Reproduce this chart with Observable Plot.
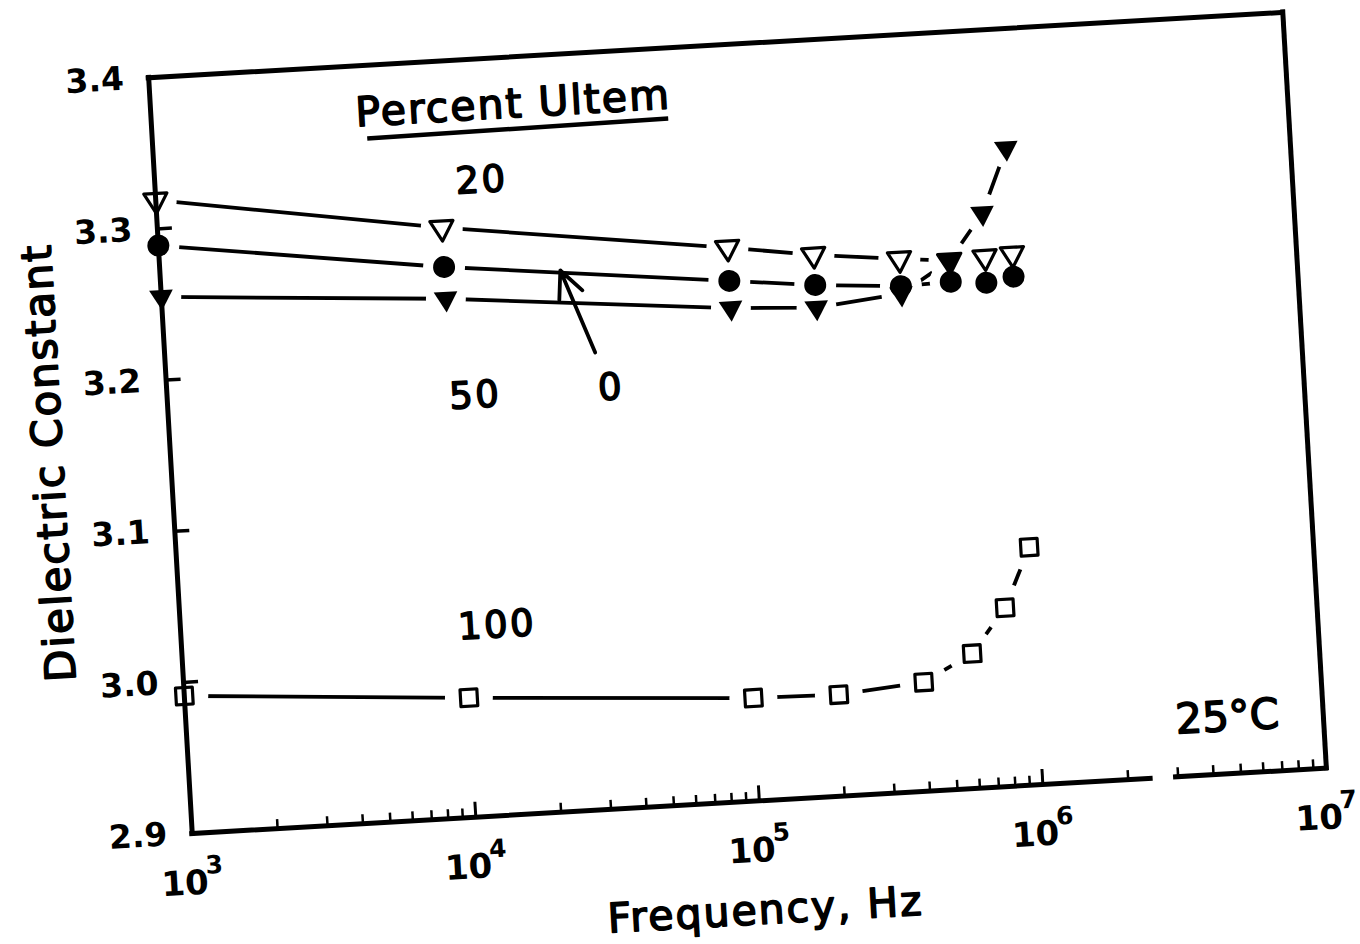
<!DOCTYPE html>
<html>
<head>
<meta charset="utf-8">
<script src="https://cdn.jsdelivr.net/npm/d3@7"></script>
<script src="https://cdn.jsdelivr.net/npm/@observablehq/plot@0.6"></script>
<style>
  html, body { margin: 0; padding: 0; background: #fff; overflow: hidden; width: 1360px; height: 944px; }
  #chart { position: absolute; left: 19.25px; top: 24px; transform-origin: 718px 398.5px; transform: rotate(-3.3deg); }
  .spaced text { letter-spacing: 2px; }
  .spaced-sm text { letter-spacing: 2.5px; }
</style>
</head>
<body>
<div id="chart"></div>
<script>
// ---- data ----
const frequencies = [1e3, 1e4, 1e5, 2e5, 4e5, 6e5, 8e5, 1e6];
const ultem20  = [3.319, 3.290, 3.266, 3.258, 3.252, 3.249, 3.250, 3.251];
const ultem0   = [3.289, 3.264, 3.244, 3.238, 3.234, 3.235, 3.233, 3.236];
const ultem50  = [3.255, 3.243, 3.226, 3.223, 3.229, 3.249, 3.279, 3.321];
const ultem100 = [2.991, 2.979, 2.968, 2.967, 2.972, 2.989, 3.018, 3.057];
const seriesNames = ["20", "0", "50", "100"];

const yTickValues = [2.9, 3.0, 3.1, 3.2, 3.3, 3.4];
const yInnerTicks = [3.0, 3.1, 3.2, 3.3];
const xDecades = [1e3, 1e4, 1e5, 1e6, 1e7];
const xInnerMajor = [1e4, 1e5, 1e6];
const minorMultipliers = [2, 3, 4, 5, 6, 7, 8, 9];
const minorDecades = [1e3, 1e4, 1e5, 1e6];
const bottomAxisSegments = [[1e3, 2.4e6], [2.95e6, 1e7]];

const curveLabels = [
  {text: "20",  freq: 10 ** 4.149, value: 3.3197},
  {text: "50",  freq: 10 ** 4.084, value: 3.178},
  {text: "0",   freq: 10 ** 4.563, value: 3.178},
  {text: "100", freq: 10 ** 4.114, value: 3.0256}
];
const temperatureLabel = [{text: "25°C", freq: 10 ** 6.662, value: 2.9372}];
const legendTitle = [{text: "Percent Ultem", freq: 10 ** 4.276, value: 3.3686}];
const legendUnderline = [{f1: 10 ** 3.756, v1: 3.3516, f2: 10 ** 4.818, v2: 3.3534}];
const pointerArrow = [{f1: 10 ** 4.514, v1: 3.2019, f2: 10 ** 4.408, v2: 3.2573}];

// ---- build tables ----
const seriesValues = {"20": ultem20, "0": ultem0, "50": ultem50, "100": ultem100};
const rows = seriesNames.flatMap(s => frequencies.map((f, i) => ({freq: f, value: seriesValues[s][i], series: s})));
const minorTicks = minorDecades.flatMap(d => minorMultipliers.map(m => m * d));

const triangleDown = {
  draw(ctx, size) {
    const y = -Math.sqrt(size / (Math.sqrt(3) * 3));
    ctx.moveTo(0, -y * 2);
    ctx.lineTo(-Math.sqrt(3) * y, y);
    ctx.lineTo(Math.sqrt(3) * y, y);
    ctx.closePath();
  }
};
const markerStyle = {
  "20":  {symbol: triangleDown, r: 8.6, fill: "white", stroke: "black", strokeWidth: 3.2, halo: 21},
  "0":   {symbol: "circle", r: 11, fill: "black", stroke: "none", strokeWidth: 0, halo: 21},
  "50":  {symbol: triangleDown, r: 8.8, fill: "black", stroke: "none", strokeWidth: 0, halo: 20},
  "100": {symbol: "square", r: 9.5, fill: "white", stroke: "black", strokeWidth: 3.2, halo: 24}
};

const FONT = "DejaVu Sans";
const innerW = 1136, innerH = 757;
const ML = 150, MT = 20, MR = 40, MB = 135;

const haloMarks = seriesNames.map(s => Plot.dot(rows.filter(d => d.series === s), {
  x: "freq", y: "value", r: markerStyle[s].halo, fill: "white", stroke: "none"
}));
const markerMarks = seriesNames.map(s => Plot.dot(rows.filter(d => d.series === s), {
  x: "freq", y: "value", symbol: markerStyle[s].symbol, r: markerStyle[s].r,
  fill: markerStyle[s].fill, stroke: markerStyle[s].stroke, strokeWidth: markerStyle[s].strokeWidth,
  strokeLinejoin: "round"
}));

const textStyle = {fill: "black", stroke: "black", strokeWidth: 1.6, textAnchor: "middle", lineAnchor: "middle"};

const chart = Plot.plot({
  width: ML + innerW + MR,
  height: MT + innerH + MB,
  marginLeft: ML, marginTop: MT, marginRight: MR, marginBottom: MB,
  style: {fontFamily: FONT, background: "white", color: "black", overflow: "visible"},
  x: {type: "log", domain: [1e3, 1e7], axis: null},
  y: {domain: [2.9, 3.4], label: null},
  marks: [
    Plot.line(rows, {x: "freq", y: "value", z: "series", stroke: "black", strokeWidth: 3.8, strokeLinecap: "round"}),
    ...haloMarks,
    ...markerMarks,
    // frame
    Plot.ruleX([1e3, 1e7], {stroke: "black", strokeWidth: 5, strokeLinecap: "square"}),
    Plot.ruleY([3.4], {stroke: "black", strokeWidth: 5, strokeLinecap: "square"}),
    Plot.ruleY(bottomAxisSegments, {y: () => 2.9, x1: d => d[0], x2: d => d[1], stroke: "black", strokeWidth: 5, strokeLinecap: "square"}),
    // inward ticks
    Plot.tickY(yInnerTicks, {y: d => d, insetRight: innerW - 15, stroke: "black", strokeWidth: 3.5}),
    Plot.tickX(xInnerMajor, {x: d => d, insetTop: innerH - 15, stroke: "black", strokeWidth: 3}),
    Plot.tickX(minorTicks, {x: d => d, insetTop: innerH - 9, stroke: "black", strokeWidth: 2.5}),
    // y tick labels
    Plot.axisY({ticks: yTickValues, tickSize: 0, tickPadding: 25, tickFormat: d3.format(".1f"),
      fontSize: 33, fontWeight: "bold", label: null}),
    // x tick labels: 10 with superscript exponent
    Plot.text(xDecades, {x: d => d, frameAnchor: "bottom", text: () => "10", dx: -10, dy: 50,
      fontSize: 34, fontWeight: "bold", fill: "black", textAnchor: "middle", lineAnchor: "middle"}),
    Plot.text(xDecades, {x: d => d, frameAnchor: "bottom", text: d => String(Math.round(Math.log10(d))),
      dx: 20, dy: 33, fontSize: 25, fontWeight: "bold", fill: "black", textAnchor: "middle", lineAnchor: "middle"}),
    // axis titles
    Plot.text(["Dielectric Constant"], {frameAnchor: "left", dx: -121, rotate: -90, fontSize: 42,
      ...textStyle, className: "spaced"}),
    Plot.text(["Frequency, Hz"], {frameAnchor: "bottom", dy: 110, fontSize: 41,
      ...textStyle, className: "spaced"}),
    // legend title and underline
    Plot.text(legendTitle, {x: "freq", y: "value", text: "text", fontSize: 41,
      ...textStyle, className: "spaced"}),
    Plot.link(legendUnderline, {x1: "f1", y1: "v1", x2: "f2", y2: "v2", stroke: "black", strokeWidth: 4.5}),
    // curve labels
    Plot.text(curveLabels, {x: "freq", y: "value", text: "text", fontSize: 37,
      ...textStyle, className: "spaced-sm"}),
    Plot.text(temperatureLabel, {x: "freq", y: "value", text: "text", fontSize: 42, ...textStyle}),
    Plot.arrow(pointerArrow, {x1: "f1", y1: "v1", x2: "f2", y2: "v2", stroke: "black",
      strokeWidth: 3.8, headLength: 22, headAngle: 50})
  ]
});
document.getElementById("chart").appendChild(chart);
</script>
</body>
</html>
